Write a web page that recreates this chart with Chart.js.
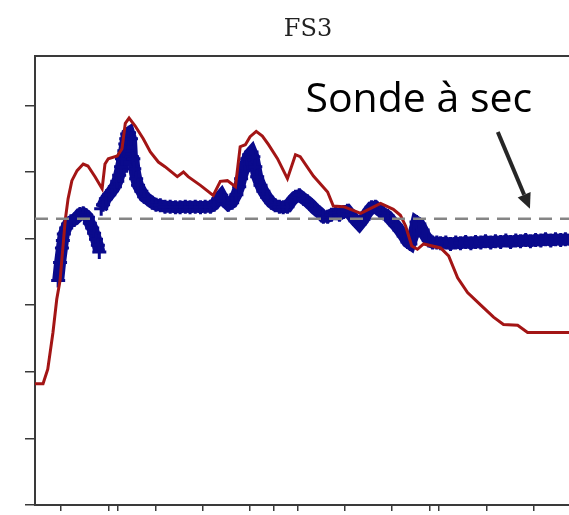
<!DOCTYPE html>
<html>
<head>
<meta charset="utf-8">
<title>FS3</title>
<script src="https://cdn.jsdelivr.net/npm/chart.js@4/dist/chart.umd.min.js"></script>
<style>
  html, body { margin: 0; padding: 0; background: #fff; overflow: hidden; }
  #wrap { width: 626px; height: 515px; }
</style>
</head>
<body>
<div id="wrap"><canvas id="fs3" width="626" height="515"></canvas></div>
<script>
// axis ranges and tick positions
const xMin = -0.55, xMax = 11, yMin = 0, yMax = 6.745;
const xTicks = [0, 1, 2, 3, 4, 5, 6, 7, 8, 9, 10, 11];
const xExtraTicks = [1.2, 4.5, 7.8];
const yTicks = [0, 1, 2, 3, 4, 5, 6];

// red curve
const redX = [-0.55, -0.38, -0.28, -0.17, -0.09, -0.02, 0.09, 0.15, 0.23, 0.34, 0.47, 0.57, 0.72, 0.87, 0.93, 1.00,
  1.19, 1.29, 1.36, 1.44, 1.57, 1.74, 1.89, 2.06, 2.20, 2.46, 2.59, 2.69, 2.95, 3.22, 3.37, 3.52, 3.69, 3.79,
  3.90, 4.00, 4.13, 4.26, 4.39, 4.58, 4.79, 4.96, 5.06, 5.34, 5.64, 5.76, 5.98, 6.34, 6.76, 7.03, 7.18, 7.29,
  7.42, 7.54, 7.67, 8.03, 8.20, 8.39, 8.60, 8.88, 9.15, 9.36, 9.66, 9.87, 11.0];
const redY = [1.82, 1.82, 2.04, 2.59, 3.09, 3.37, 4.28, 4.60, 4.87, 5.02, 5.12, 5.09, 4.93, 4.75, 5.12, 5.20,
  5.24, 5.35, 5.73, 5.81, 5.69, 5.50, 5.30, 5.15, 5.08, 4.93, 5.00, 4.93, 4.80, 4.65, 4.86, 4.87, 4.78, 5.38,
  5.41, 5.53, 5.61, 5.54, 5.41, 5.20, 4.90, 5.26, 5.23, 4.94, 4.70, 4.49, 4.48, 4.38, 4.53, 4.44, 4.35, 4.19,
  3.89, 3.84, 3.92, 3.86, 3.74, 3.41, 3.19, 3.00, 2.82, 2.71, 2.70, 2.59, 2.59];

// blue probe readings (null = break in the record)
const blueX = [-0.06, -0.02, 0.02, 0.04, 0.06, 0.11, 0.15, 0.21, 0.28, 0.34, 0.40, 0.47, 0.53, 0.57, 0.61, 0.66,
  0.70, 0.74, 0.78, 0.81,
  0.83,
  0.85, 0.89, 0.95, 1.02, 1.08, 1.14, 1.19, 1.23, 1.27, 1.29, 1.34, 1.36, 1.38, 1.40, 1.44, 1.48, 1.50, 1.53,
  1.55, 1.59, 1.63, 1.70, 1.76, 1.84, 1.93, 2.01, 2.10, 2.20, 2.31, 2.42, 2.52, 2.63, 2.73, 2.84, 2.95, 3.05,
  3.16, 3.24, 3.33, 3.39, 3.45, 3.54, 3.62, 3.71, 3.77, 3.81, 3.86, 3.90, 3.94, 3.98, 4.03, 4.07, 4.11, 4.15,
  4.22, 4.28, 4.36, 4.45, 4.53, 4.62, 4.70, 4.79, 4.87, 4.96, 5.04, 5.13, 5.21, 5.30, 5.38, 5.47, 5.55, 5.64,
  5.72, 5.81, 5.89, 5.98, 6.06, 6.14, 6.23, 6.31, 6.40, 6.48, 6.57, 6.65, 6.74, 6.82, 6.91, 6.99, 7.08, 7.16,
  7.25, 7.33, 7.39, 7.46, 7.52, 7.58, 7.65, 7.71, 7.78, 7.86, 7.95,
  8.03, 8.14, 8.24, 8.35, 8.45, 8.56, 8.67, 8.77, 8.88, 8.98, 9.09, 9.19, 9.30, 9.41, 9.51, 9.62, 9.72, 9.83,
  9.93, 10.04, 10.15, 10.25, 10.36, 10.46, 10.57, 10.67, 10.78, 10.89, 10.99];
const blueY = [3.37, 3.64, 3.86, 3.97, 4.07, 4.16, 4.22, 4.26, 4.28, 4.32, 4.37, 4.38, 4.35, 4.32, 4.23, 4.16,
  4.08, 3.99, 3.90, 3.80,
  null,
  4.45, 4.51, 4.60, 4.66, 4.72, 4.78, 4.86, 4.95, 5.08, 5.20, 5.32, 5.42, 5.50, 5.57, 5.59, 5.50, 5.23, 5.20,
  5.05, 4.90, 4.80, 4.71, 4.63, 4.59, 4.54, 4.51, 4.50, 4.48, 4.48, 4.47, 4.47, 4.48, 4.47, 4.48, 4.47, 4.48,
  4.48, 4.51, 4.60, 4.65, 4.57, 4.51, 4.54, 4.66, 4.78, 4.90, 5.02, 5.12, 5.20, 5.26, 5.30, 5.23, 5.08, 4.93,
  4.80, 4.71, 4.62, 4.54, 4.50, 4.48, 4.47, 4.48, 4.56, 4.63, 4.65, 4.60, 4.56, 4.50, 4.44, 4.39, 4.33, 4.33,
  4.36, 4.38, 4.36, 4.40, 4.42, 4.35, 4.27, 4.21, 4.29, 4.39, 4.47, 4.48, 4.42, 4.38, 4.34, 4.27, 4.20, 4.13,
  4.04, 3.95, 3.92, 4.07, 4.25, 4.22, 4.13, 4.04, 3.97, 3.94, 3.94,
  3.93, 3.94, 3.92, 3.94, 3.93, 3.95, 3.93, 3.95, 3.94, 3.96, 3.94, 3.96, 3.95, 3.97, 3.95, 3.97, 3.96, 3.98,
  3.96, 3.98, 3.97, 3.99, 3.97, 3.99, 3.98, 3.99, 3.98, 4.00, 3.99];

// dry-probe threshold
const seuilSec = 4.3;

// annotation, in data units
const labelText = 'Sonde à sec';
const labelAt = [5.17, 5.9];
const arrowFrom = [9.24, 5.6];
const arrowTo = [9.92, 4.45];

const toPoints = (xs, ys) => xs.map((x, i) => ({x: x, y: ys[i]}));

const sondePlugin = {
  id: 'sondeLabel',
  afterDraw(chart) {
    const {ctx} = chart;
    const sx = chart.scales.x, sy = chart.scales.y;
    ctx.save();
    ctx.fillStyle = '#000';
    ctx.font = '41px "Open Sans"';
    ctx.textBaseline = 'alphabetic';
    ctx.fillText(labelText, sx.getPixelForValue(labelAt[0]), sy.getPixelForValue(labelAt[1]));

    const x0 = sx.getPixelForValue(arrowFrom[0]), y0 = sy.getPixelForValue(arrowFrom[1]);
    const x1 = sx.getPixelForValue(arrowTo[0]), y1 = sy.getPixelForValue(arrowTo[1]);
    const a = Math.atan2(y1 - y0, x1 - x0);
    const head = 15, half = 7;
    const bx = x1 - head * Math.cos(a), by = y1 - head * Math.sin(a);
    ctx.strokeStyle = '#262626';
    ctx.fillStyle = '#262626';
    ctx.lineWidth = 4;
    ctx.beginPath();
    ctx.moveTo(x0, y0);
    ctx.lineTo(bx, by);
    ctx.stroke();
    ctx.beginPath();
    ctx.moveTo(x1, y1);
    ctx.lineTo(bx + half * Math.sin(a), by - half * Math.cos(a));
    ctx.lineTo(bx - half * Math.sin(a), by + half * Math.cos(a));
    ctx.closePath();
    ctx.fill();
    ctx.restore();
  }
};

const axisColor = '#3a3a3a';

new Chart(document.getElementById('fs3'), {
  type: 'line',
  data: {
    datasets: [
      {
        label: 'seuil',
        data: [{x: xMin, y: seuilSec}, {x: xMax, y: seuilSec}],
        borderColor: '#858585',
        borderWidth: 2.5,
        borderDash: [13, 8],
        pointRadius: 0,
        order: 0
      },
      {
        label: 'rouge',
        data: toPoints(redX, redY),
        borderColor: '#a31515',
        borderWidth: 3,
        pointRadius: 0,
        tension: 0,
        order: 1
      },
      {
        label: 'sonde',
        data: toPoints(blueX, blueY),
        borderColor: '#0a0a8c',
        backgroundColor: '#0a0a8c',
        borderWidth: 12,
        pointStyle: 'cross',
        pointRadius: 7,
        pointBorderWidth: 3,
        pointBorderColor: '#0a0a8c',
        spanGaps: false,
        tension: 0,
        order: 2
      }
    ]
  },
  options: {
    responsive: false,
    animation: false,
    events: [],
    layout: { padding: { left: 35, right: 45, top: 0, bottom: 0 } },
    plugins: {
      legend: { display: false },
      tooltip: { enabled: false },
      title: {
        display: true,
        text: 'FS3',
        color: '#222',
        font: { family: 'DejaVu Serif', size: 24, weight: 'normal' },
        padding: { top: 15, bottom: 12 }
      }
    },
    scales: {
      x: {
        type: 'linear',
        position: 'bottom',
        min: xMin,
        max: xMax,
        afterBuildTicks: (scale) => {
          scale.ticks = xTicks.concat(xExtraTicks).map((v) => ({value: v}));
        },
        ticks: { display: false },
        grid: { drawOnChartArea: false, drawTicks: true, tickLength: 6, color: axisColor, lineWidth: 1.5 },
        border: { display: true, color: axisColor, width: 2 }
      },
      xTop: {
        type: 'linear',
        position: 'top',
        min: xMin,
        max: xMax,
        ticks: { display: false },
        grid: { display: false, drawTicks: false },
        border: { display: true, color: axisColor, width: 2 }
      },
      y: {
        type: 'linear',
        position: 'left',
        min: yMin,
        max: yMax,
        afterBuildTicks: (scale) => {
          scale.ticks = yTicks.map((v) => ({value: v}));
        },
        afterFit: (scale) => { scale.width = 0; },
        ticks: { display: false },
        grid: { drawOnChartArea: false, drawTicks: true, tickLength: 10, color: axisColor, lineWidth: 1.5 },
        border: { display: true, color: axisColor, width: 2 }
      }
    }
  },
  plugins: [sondePlugin]
});
</script>
</body>
</html>
